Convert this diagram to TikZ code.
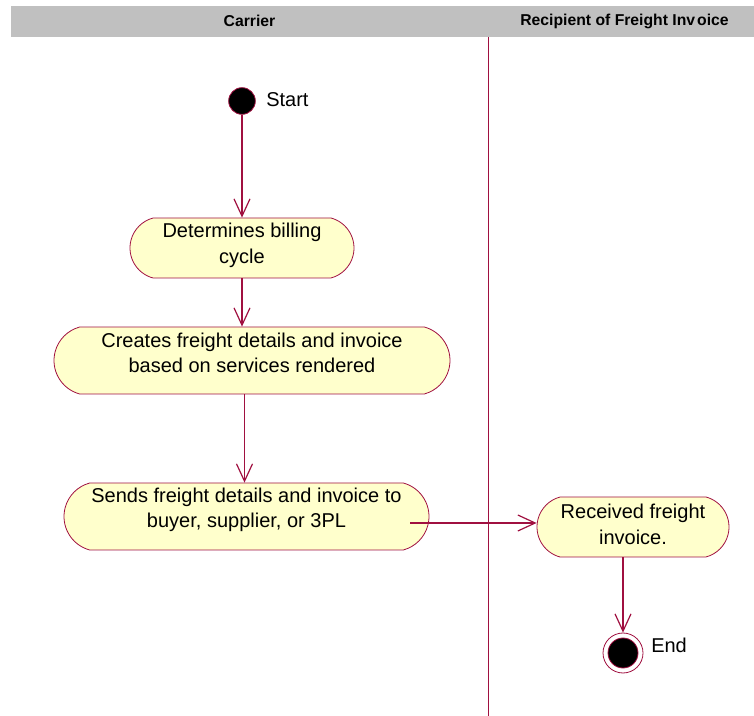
\documentclass[tikz,border=0pt]{standalone}
\usepackage{fontspec}
\setmainfont{Liberation Sans}
\usetikzlibrary{shapes.misc,arrows.meta}
\definecolor{umlred}{RGB}{160,16,64}
\definecolor{umlfill}{RGB}{255,255,204}
\definecolor{lanegray}{RGB}{192,192,192}
\begin{document}
\begin{tikzpicture}[x=0.75pt,y=-0.75pt,
 act/.style={rounded rectangle, rounded rectangle arc length=150, draw=umlred, line width=0.6pt, fill=umlfill, inner sep=0pt},
 acttext/.style={align=center, font=\fontsize{15}{19}\selectfont, inner sep=0pt},
 flow/.style={draw=umlred, line width=0.9pt, -{Straight Barb[length=13pt,width=12pt,line width=0.9pt]}},
 lanetitle/.style={font=\bfseries\fontsize{11.8}{13}\selectfont, inner sep=0pt},
 lbl/.style={font=\fontsize{15}{18}\selectfont, anchor=west, inner sep=0pt},
 startdot/.style={circle, fill=black, draw=umlred, line width=0.6pt, minimum size=20pt, inner sep=0pt}]
\useasboundingbox (0,0) rectangle (754,716);
% swimlane header
\fill[lanegray] (11,6) rectangle (754,37);
\node[lanetitle] (lc) at (249.5,21) {Carrier};
\node[lanetitle] (lr) at (624.5,21) {Recipient of Freight Inv\kern1.5pt oice};
\draw[umlred, line width=0.6pt] (488,37) -- (488,716);
% start
\node[startdot] (start) at (242,101) {};
\node[lbl] (startl) at (266,100) {Start};
% activities
\node[act, minimum width=168pt, minimum height=45pt] (a1) at (242,248) {};
\node[acttext] (t1) at ([yshift=2pt]a1.center) {Determines billing\\cycle};
\node[act, minimum width=297pt, minimum height=50.25pt] (a2) at (252,360.5) {};
\node[acttext] (t2) at ([yshift=5.5pt]a2.center) {Creates freight details and invoice\\based on services rendered};
\node[act, minimum width=273.75pt, minimum height=50.25pt] (a3) at (246.5,516.5) {};
\node[acttext] (t3) at ([yshift=5.2pt]a3.center) {Sends freight details and invoice to\\buyer, supplier, or 3PL};
\node[act, minimum width=144pt, minimum height=45pt] (a4) at (633,527) {};
\node[acttext] (t4) at ([yshift=2pt]a4.center) {Received freight\\invoice.};
% end
\node[circle, draw=umlred, fill=white, line width=0.6pt, minimum size=30pt, inner sep=0pt] (endo) at (623,653) {};
\node[startdot, minimum size=22.5pt] (endi) at (623,653) {};
\node[lbl] (endl) at (651,645) {End};
% flows
\draw[flow] (start) -- (start |- a1.north);
\draw[flow] (a1.south) -- (a1.south |- a2.north);
\draw[flow] ([xshift=-1.5pt]a3.north |- a2.south) -- ([xshift=-1.5pt]a3.north);
\coordinate (j) at (410,523);
\draw[flow] (j) -- (j -| a4.west);
\draw[flow] (endo.north |- a4.south) -- (endo.north);
\end{tikzpicture}
\end{document}
